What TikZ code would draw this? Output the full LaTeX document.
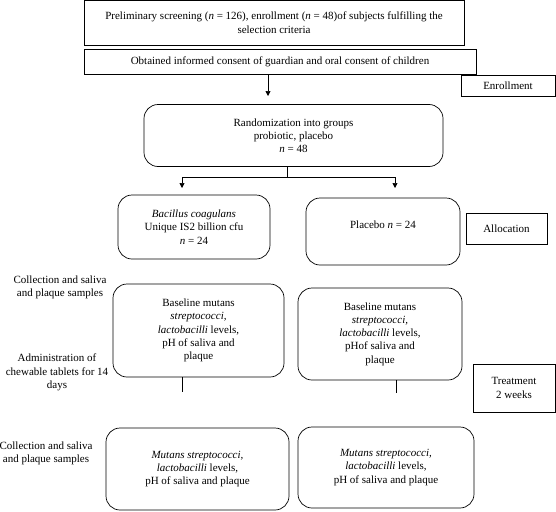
\documentclass[tikz,border=0pt]{standalone}
\usepackage{fontspec}
\setmainfont{Liberation Serif}
\usetikzlibrary{positioning, arrows.meta}
\tikzset{plain box/.style={rectangle,draw,line width=0.7pt,inner sep=2pt,align=center}}
\tikzset{round box/.style={rectangle,rounded corners=14pt,draw,line width=0.7pt,inner sep=2pt,align=center}}
\tikzset{side note/.style={align=center,inner sep=0pt}}
\tikzset{flow arrow/.style={line width=0.7pt,-{Triangle[length=5pt,width=5pt]}}}

\begin{document}
\begin{tikzpicture}[x=1pt,y=-1pt,font=\fontsize{11}{13.2}\selectfont]
            \useasboundingbox (0,0) rectangle (556,511);

            \node[plain box, minimum width=380pt, minimum height=44.5pt] (screen) at (274,22.7) {Preliminary screening (\textit{n} = 126), enrollment (\textit{n} = 48)of subjects fulfilling the\\selection criteria};
            \node[plain box, minimum width=392pt, minimum height=25pt] (consent) at (280,61.5) {Obtained informed consent of guardian and oral consent of children};
            \node[plain box, minimum width=94pt, minimum height=21pt] (enroll) at (508,85.5) {Enrollment};
            \node[round box, minimum width=299pt, minimum height=62pt] (rand) at (293.5,135.5) {Randomization into groups\\probiotic, placebo\\\textit{n} = 48};

            \node[round box, minimum width=152pt, minimum height=64pt] (probiotic) at (194,227) {\textit{Bacillus coagulans}\\Unique IS2 billion cfu\\\textit{n} = 24};
            \node[round box, minimum width=154pt, minimum height=67pt, text depth=13pt] (placebo) at (383,231.5) {Placebo \textit{n} = 24};
            \node[plain box, minimum width=81pt, minimum height=31pt] (alloc) at (506.5,228.5) {Allocation};

            \node[side note] (collect1) at (60,287) {Collection and saliva\\and plaque samples};
            \node[round box, minimum width=171pt, minimum height=93pt] (baseP) at (198.5,330.5) {Baseline mutans\\\textit{streptococci,}\\\textit{lactobacilli} levels,\\pH of saliva and\\plaque};
            \node[round box, minimum width=164pt, minimum height=92pt] (baseC) at (380,334) {Baseline mutans\\\textit{streptococci,}\\\textit{lactobacilli} levels,\\pHof saliva and\\plaque};
            \node[side note] (admin) at (57,372.5) {Administration of\\chewable tablets for 14\\days};
            \node[plain box, minimum width=82pt, minimum height=48pt] (treat) at (514,388) {Treatment\\2 weeks};

            \node[side note] (collect2) at (46,453.5) {Collection and saliva\\and plaque samples};
            \node[round box, minimum width=183pt, minimum height=82pt] (endP) at (197.5,469) {\textit{Mutans streptococci,}\\\textit{lactobacilli} levels,\\pH of saliva and plaque};
            \node[round box, minimum width=176pt, minimum height=81pt] (endC) at (386,467.5) {\textit{Mutans streptococci,}\\\textit{lactobacilli} levels,\\pH of saliva and plaque};

            \coordinate (randtop) at (268,96);
            \coordinate (fork) at (287,177);
            \coordinate (leftend) at (182,188);
            \coordinate (rightend) at (395,188);
            \coordinate (stopP) at (182,392);
            \coordinate (stopC) at (396,393);

            \draw[flow arrow] (consent.south -| randtop) -- (randtop);
            \draw[line width=0.7pt] (rand.south -| fork) -- (fork);
            \draw[flow arrow] (fork) -| (leftend);
            \draw[flow arrow] (fork) -| (rightend);
            \draw[line width=0.7pt] (baseP.south -| stopP) -- (stopP);
            \draw[line width=0.7pt] (baseC.south -| stopC) -- (stopC);
        \end{tikzpicture}
\end{document}
